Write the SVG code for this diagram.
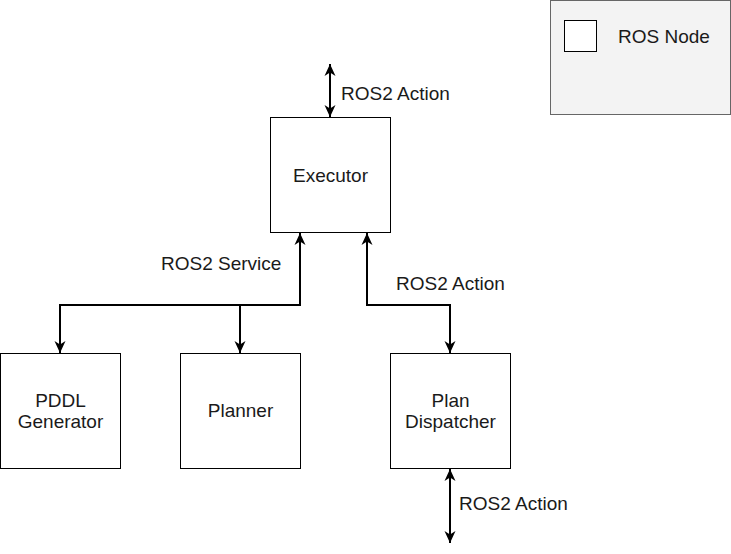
<svg xmlns="http://www.w3.org/2000/svg" width="731" height="554" viewBox="0 0 731 554">
<style>
.node{fill:#fff;stroke:#000;stroke-width:1}
.lbl{font-family:"Liberation Sans",Arial,sans-serif;font-size:19px;fill:#1a1a1a}
.c{text-anchor:middle}
.edge{fill:none;stroke:#000;stroke-width:2}
</style>
<defs>
<marker id="ah" markerUnits="userSpaceOnUse" markerWidth="13" markerHeight="13" viewBox="0 0 13 13" refX="12" refY="6.5" orient="auto-start-reverse">
<path d="M0,1 L12,6.5 L0,12 L3.5,6.5 z" fill="#000"/>
</marker>
</defs>
<rect width="731" height="554" fill="#fff"/>
<g id="legend">
<rect x="550.5" y="0.5" width="180" height="114" fill="#f3f3f3" stroke="#666"/>
<rect x="564.5" y="20.5" width="32" height="31" class="node"/>
<text x="618" y="43" class="lbl">ROS Node</text>
</g>
<g id="executor">
<rect x="270.5" y="117.5" width="120" height="115" class="node"/>
<text x="330.5" y="182" class="lbl c">Executor</text>
</g>
<g id="pddl">
<rect x="0.5" y="353.5" width="120" height="115" class="node"/>
<text x="60.5" y="407" class="lbl c">PDDL</text>
<text x="60.5" y="428" class="lbl c">Generator</text>
</g>
<g id="planner">
<rect x="180.5" y="353.5" width="120" height="115" class="node"/>
<text x="240.5" y="417" class="lbl c">Planner</text>
</g>
<g id="dispatcher">
<rect x="390.5" y="353.5" width="120" height="115" class="node"/>
<text x="450.5" y="407" class="lbl c">Plan</text>
<text x="450.5" y="428" class="lbl c">Dispatcher</text>
</g>
<g id="connectors">
<path class="edge" d="M330,64 L330,117" marker-start="url(#ah)" marker-end="url(#ah)"/>
<path class="edge" d="M300,233 L300,305 L60,305 L60,353" marker-start="url(#ah)" marker-end="url(#ah)"/>
<path class="edge" d="M240,305 L240,353" marker-end="url(#ah)"/>
<path class="edge" d="M367,233 L367,305 L450,305 L450,353" marker-start="url(#ah)" marker-end="url(#ah)"/>
<path class="edge" d="M450,469 L450,543" marker-start="url(#ah)" marker-end="url(#ah)"/>
<text x="341" y="100" class="lbl">ROS2 Action</text>
<text x="161" y="270" class="lbl">ROS2 Service</text>
<text x="396" y="290" class="lbl">ROS2 Action</text>
<text x="459" y="510" class="lbl">ROS2 Action</text>
</g>
</svg>
